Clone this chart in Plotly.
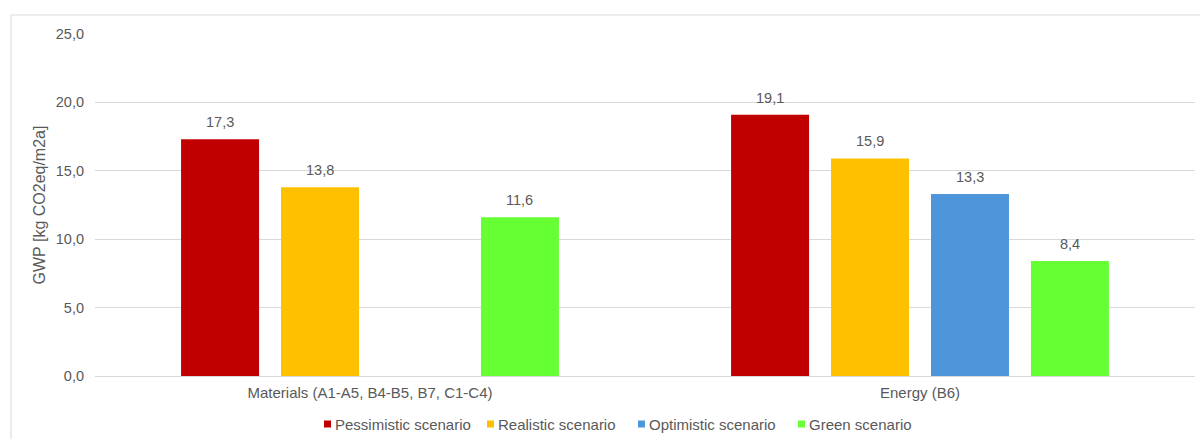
import plotly.graph_objects as go

# GWP per life-cycle group and scenario
categories = ["Materials (A1-A5, B4-B5, B7, C1-C4)", "Energy (B6)"]
scenarios = ["Pessimistic scenario", "Realistic scenario", "Optimistic scenario", "Green scenario"]
pessimistic = [17.3, 19.1]
realistic = [13.8, 15.9]
optimistic = [None, 13.3]
green = [11.6, 8.4]
colors = ["#C00000", "#FFC000", "#4E95D9", "#66FF33"]
y_ticks = [0, 5, 10, 15, 20, 25]

series = [pessimistic, realistic, optimistic, green]
txt_color = "#595959"
font_family = "Liberation Sans, Arial, sans-serif"

W, H = 1200, 439
M = dict(l=95, r=5, t=34, b=63)
plot_w = W - M["l"] - M["r"]
plot_h = H - M["t"] - M["b"]
BARGAP, GROUPGAP = 0.273, 0.22
slot_px = plot_w / len(categories) * (1 - BARGAP) / len(series)


def fmt(v):
    return f"{v:.1f}".replace(".", ",")


def px_to_paper_x(px):
    return (px - M["l"]) / plot_w


def px_to_paper_y(py):
    return (H - M["b"] - py) / plot_h


fig = go.Figure()
annotations = []
for i, (name, vals, col) in enumerate(zip(scenarios, series, colors)):
    fig.add_trace(go.Bar(
        x=categories, y=vals, name=name,
        marker=dict(color=col, line=dict(width=0)),
    ))
    # value labels above each bar
    for cat, v in zip(categories, vals):
        if v is None:
            continue
        annotations.append(dict(
            x=cat, y=v, xref="x", yref="y", text=fmt(v), showarrow=False,
            xshift=(i - (len(series) - 1) / 2) * slot_px, yshift=7,
            yanchor="bottom", font=dict(size=14.5, color=txt_color),
        ))

# legend row below the axis: small square swatch followed by its label
legend_x = [324, 487, 638, 798]
legend_y = 424
shapes = [dict(type="rect", xref="paper", yref="paper",
               x0=px_to_paper_x(11), x1=px_to_paper_x(1210),
               y0=px_to_paper_y(450), y1=px_to_paper_y(15),
               line=dict(color="#D9D9D9", width=1), fillcolor="rgba(0,0,0,0)", layer="below")]
for lx, name, col in zip(legend_x, scenarios, colors):
    shapes.append(dict(type="rect", xref="paper", yref="paper",
                       x0=px_to_paper_x(lx), x1=px_to_paper_x(lx + 7),
                       y0=px_to_paper_y(legend_y + 3.5), y1=px_to_paper_y(legend_y - 3.5),
                       line=dict(width=0), fillcolor=col))
    annotations.append(dict(x=px_to_paper_x(lx + 9), y=px_to_paper_y(legend_y),
                            xref="paper", yref="paper", text=name, showarrow=False,
                            xanchor="left", yanchor="middle",
                            font=dict(size=15, color=txt_color)))

fig.update_layout(
    width=W, height=H, margin=M,
    paper_bgcolor="white", plot_bgcolor="white",
    separators=", ", showlegend=False,
    barmode="group", bargap=BARGAP, bargroupgap=GROUPGAP,
    font=dict(family=font_family, size=15, color=txt_color),
    shapes=shapes, annotations=annotations,
)
fig.update_yaxes(range=[0, 25], tickvals=y_ticks, tickformat=".1f",
                 showgrid=True, gridcolor="#D9D9D9", gridwidth=1,
                 zeroline=False, showline=False, ticks="", ticklabelstandoff=10,
                 title=dict(text="GWP [kg CO2eq/m2a]", standoff=6, font=dict(size=16, color=txt_color)),
                 tickfont=dict(size=14.5, color=txt_color), automargin=False)
fig.update_xaxes(showline=True, linecolor="#D9D9D9", linewidth=1, ticks="",
                 showgrid=False, tickfont=dict(size=15, color=txt_color),
                 ticklabelstandoff=3, automargin=False)

fig.write_html("out.html")
